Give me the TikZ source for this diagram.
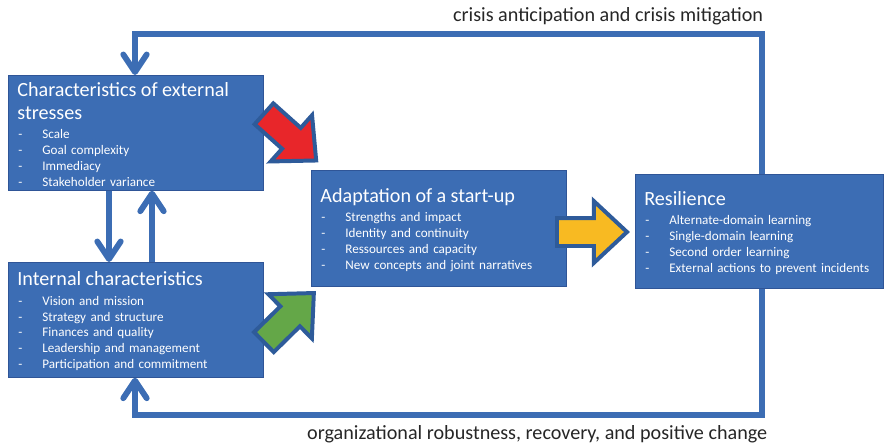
\documentclass[tikz,border=0pt]{standalone}
\usepackage{fontspec}
\setmainfont{Carlito}
\usetikzlibrary{positioning}
\usetikzlibrary{arrows.meta}
\usetikzlibrary{shapes.arrows}
\setlength\parindent{0pt}

\definecolor{panelblue}{HTML}{3C6DB4}
\definecolor{paneledge}{HTML}{2F5597}
\definecolor{arrowedge}{HTML}{2E5B9A}
\definecolor{stressred}{HTML}{E8262A}
\definecolor{innergreen}{HTML}{64A748}
\definecolor{adaptyellow}{HTML}{F8BA22}
\definecolor{captiongray}{HTML}{262626}

% heading gets a tall strut so the text sits a little lower in its box
\newcommand\boxhead[1]{{\fontsize{17.2}{19.5}\selectfont\rule{0pt}{14.5pt}#1\par}\vspace{2.9pt}}
\newcommand\boxitem[1]{\makebox[0.75cm][l]{\hspace{0.03cm}-}#1\par}

\tikzstyle{panel} = [rectangle, draw=paneledge, line width=0.6pt, fill=panelblue, text=white,
    anchor=north west, inner xsep=0.27cm, inner ysep=0pt, align=left,
    font=\fontsize{11.2}{13.6}\selectfont]
\tikzstyle{feedback} = [draw=panelblue, line width=5pt, line join=miter,
    -{Straight Barb[length=15pt,width=20pt,round]}]
\tikzstyle{blockarrow} = [single arrow, draw=arrowedge, line width=3.4pt, line join=miter,
    inner xsep=0pt, inner ysep=0.36cm, minimum width=0pt, minimum height=2.1cm,
    single arrow head extend=0.51cm, single arrow tip angle=86, anchor=tail]
\tikzstyle{caption} = [text=captiongray, inner sep=0pt, font=\fontsize{17.2}{20}\selectfont]

\begin{document}
\begin{tikzpicture}[x=0.03cm, y=-0.03cm]
    \useasboundingbox (0,0) rectangle (884,444);

    \node[panel, minimum width=7.65cm, minimum height=3.45cm, text width=7.11cm] (ext) at (8,75) {
        \boxhead{Characteristics of external\\stresses}
        \boxitem{Scale}
        \boxitem{Goal complexity}
        \boxitem{Immediacy}
        \boxitem{Stakeholder variance}};
    \node[panel, minimum width=7.65cm, minimum height=3.45cm, text width=7.11cm] (int) at (8,262) {
        \boxhead{Internal characteristics}
        \boxitem{Vision and mission}
        \boxitem{Strategy and structure}
        \boxitem{Finances and quality}
        \boxitem{Leadership and management}
        \boxitem{Participation and commitment}};
    \node[panel, minimum width=7.65cm, minimum height=3.48cm, text width=7.11cm] (adapt) at (311,170) {
        \boxhead{Adaptation of a start-up}
        \boxitem{Strengths and impact}
        \boxitem{Identity and continuity}
        \boxitem{Ressources and capacity}
        \boxitem{New concepts and joint narratives}};
    \node[panel, minimum width=7.44cm, minimum height=3.42cm, text width=6.9cm] (res) at (635,174) {
        \boxhead{Resilience}
        \boxitem{Alternate-domain learning}
        \boxitem{Single-domain learning}
        \boxitem{Second order learning}
        \boxitem{External actions to prevent incidents}};

    % feedback loops round the whole model
    \coordinate (topR) at (762,34);
    \coordinate (topL) at (135,34);
    \coordinate (botR) at (762,415);
    \coordinate (botL) at (135,415);
    \draw[feedback] (res.north -| topR) -- (topR)
        node[caption, anchor=base east, xshift=3.5pt, yshift=11pt] (anticip) {crisis anticipation and crisis mitigation}
        -- (topL) -- (ext.north -| topL);
    \draw[feedback] (res.south -| botR) -- (botR)
        node[caption, anchor=base east, xshift=7pt, yshift=-20.5pt] (robust) {organizational robustness, recovery, and positive change}
        -- (botL) -- (int.south -| botL);

    % stresses and internal side feed each other
    \coordinate (dn) at (109,0);
    \coordinate (up) at (152,0);
    \draw[feedback] (ext.south -| dn) -- (int.north -| dn);
    \draw[feedback] (int.north -| up) -- (ext.south -| up);

    % block arrows into adaptation and on to resilience
    \node[blockarrow, fill=stressred, rotate=-41.8] (toadapt) at (262.5,112.5) {};
    \node[blockarrow, fill=innergreen, rotate=44.5] (fromint) at (262.5,343.5) {};
    \node[blockarrow, fill=adaptyellow] (tores) at (555,232) {};
\end{tikzpicture}
\end{document}
